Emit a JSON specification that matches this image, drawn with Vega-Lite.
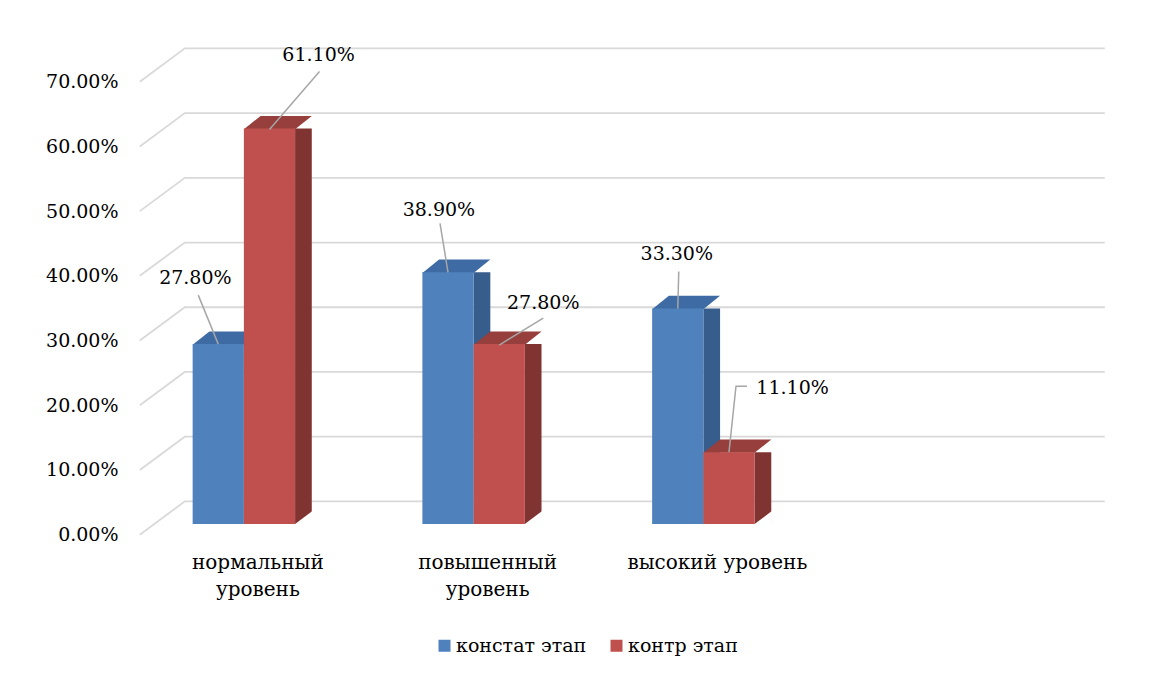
{
  "$schema": "https://vega.github.io/schema/vega-lite/v6.json",
  "width": 919,
  "height": 453,
  "autosize": {"type": "none"},
  "padding": {"left": 129, "top": 71, "right": 104, "bottom": 155},
  "background": "white",
  "config": {
    "view": {"stroke": null},
    "font": "DejaVu Serif",
    "legend": {
      "orient": "none", "legendX": 306, "legendY": 565, "direction": "horizontal",
      "labelFont": "DejaVu Serif", "labelFontSize": 19, "labelColor": "#000000",
      "symbolType": "square", "symbolSize": 144, "symbolStrokeWidth": 0,
      "columnPadding": 20, "labelOffset": 2, "padding": 0
    }
  },
  "datasets": {
    "bars": [
      {"cat": "нормальный уровень", "series": "констат этап", "value": 0.278},
      {"cat": "нормальный уровень", "series": "контр этап", "value": 0.611},
      {"cat": "повышенный уровень", "series": "констат этап", "value": 0.389},
      {"cat": "повышенный уровень", "series": "контр этап", "value": 0.278},
      {"cat": "высокий уровень", "series": "констат этап", "value": 0.333},
      {"cat": "высокий уровень", "series": "контр этап", "value": 0.111}
    ],
    "grid": [{"v": 0}, {"v": 0.1}, {"v": 0.2}, {"v": 0.3}, {"v": 0.4}, {"v": 0.5}, {"v": 0.6}, {"v": 0.7}]
  },
  "layer": [
    {
      "data": {"name": "grid"},
      "mark": {"type": "point", "shape": "M10.8,10.7L55.8,-22.6L975.8,-22.6", "size": 4, "filled": false, "stroke": "#d9d9d9", "strokeWidth": 1.8, "opacity": 1},
      "encoding": {
        "x": {"value": 0},
        "y": {
          "field": "v", "type": "quantitative", "scale": {"domain": [0, 0.7], "nice": false},
          "axis": {
            "title": null, "grid": false, "domain": false, "ticks": false, "tickSize": 0,
            "values": [0, 0.1, 0.2, 0.3, 0.4, 0.5, 0.6, 0.7], "format": ".2%",
            "labelPadding": 11, "labelOffset": 10.7,
            "labelFont": "DejaVu Serif", "labelFontSize": 19, "labelColor": "#000000"
          }
        }
      }
    },
    {
      "data": {"name": "bars"},
      "encoding": {
        "x": {
          "field": "cat", "type": "nominal",
          "scale": {"domain": ["нормальный уровень", "повышенный уровень", "высокий уровень", " "], "paddingInner": 0.554, "paddingOuter": 0.277},
          "axis": {
            "title": null, "grid": false, "domain": false, "ticks": false, "tickSize": 0,
            "labelPadding": 28, "labelOffset": 14, "labelAngle": 0,
            "labelFont": "DejaVu Serif", "labelFontSize": 20, "labelColor": "#000000", "labelLineHeight": 27,
            "labelExpr": "datum.value == 'высокий уровень' ? datum.value : split(datum.value, ' ')"
          }
        },
        "y": {
          "field": "value", "type": "quantitative",
          "scale": {"domain": [0, 0.7], "nice": false},
          "axis": {
            "title": null, "grid": false, "domain": false, "ticks": false, "tickSize": 0,
            "values": [0, 0.1, 0.2, 0.3, 0.4, 0.5, 0.6, 0.7], "format": ".2%",
            "labelPadding": 11, "labelOffset": 10.7,
            "labelFont": "DejaVu Serif", "labelFontSize": 19, "labelColor": "#000000"
          }
        }
      },
      "layer": [
        {
          "transform": [{"filter": "datum.series == 'констат этап'"}],
          "mark": {"type": "bar", "width": 16.7, "xOffset": 8.35, "color": "#375d8c"}
        },
        {
          "transform": [{"filter": "datum.series == 'контр этап'"}],
          "mark": {"type": "bar", "width": 16.7, "xOffset": 59.55, "color": "#7f3432"}
        },
        {
          "mark": {"type": "point", "shape": "M25.6,0L42.9,-13L42.9,1.5L25.6,1.5Z", "size": 4, "filled": true, "opacity": 1, "color": "white", "strokeWidth": 0},
          "encoding": {
            "xOffset": {"field": "series", "type": "nominal", "scale": {"domain": ["констат этап", "контр этап"], "paddingInner": 0, "paddingOuter": 0}},
            "y": {
              "datum": 0, "type": "quantitative",
              "axis": {
                "title": null, "grid": false, "domain": false, "ticks": false, "tickSize": 0,
                "values": [0, 0.1, 0.2, 0.3, 0.4, 0.5, 0.6, 0.7], "format": ".2%",
                "labelPadding": 11, "labelOffset": 10.7,
                "labelFont": "DejaVu Serif", "labelFontSize": 19, "labelColor": "#000000"
              }
            }
          }
        },
        {
          "mark": {"type": "point", "shape": "M-25.6,0.7L25.6,0.7L42.3,-12.7L-8.9,-12.7Z", "size": 4, "filled": true, "opacity": 1, "strokeWidth": 0},
          "encoding": {
            "xOffset": {"field": "series", "type": "nominal", "scale": {"domain": ["констат этап", "контр этап"], "paddingInner": 0, "paddingOuter": 0}},
            "color": {"condition": {"test": "datum.series == 'констат этап'", "value": "#3e6ba3"}, "value": "#963f3c"}
          }
        },
        {
          "mark": {"type": "bar"},
          "encoding": {
            "xOffset": {"field": "series", "type": "nominal", "scale": {"domain": ["констат этап", "контр этап"], "paddingInner": 0, "paddingOuter": 0}},
            "color": {"field": "series", "type": "nominal", "scale": {"domain": ["констат этап", "контр этап"], "range": ["#4f81bd", "#c0504d"]}, "legend": {"title": null}}
          }
        },
        {
          "mark": {"type": "point", "size": 4, "filled": false, "opacity": 1, "color": "#a6a6a6", "strokeWidth": 1.5},
          "encoding": {
            "xOffset": {"field": "series", "type": "nominal", "scale": {"domain": ["констат этап", "контр этап"], "paddingInner": 0, "paddingOuter": 0}},
            "shape": {
              "condition": [
                {"test": "datum.cat == 'нормальный уровень' && datum.series == 'констат этап'", "value": "M0,0L-20,-49"},
                {"test": "datum.cat == 'нормальный уровень' && datum.series == 'контр этап'", "value": "M0,1L50,-57"},
                {"test": "datum.cat == 'повышенный уровень' && datum.series == 'констат этап'", "value": "M0,0L-8,-49"},
                {"test": "datum.cat == 'повышенный уровень' && datum.series == 'контр этап'", "value": "M0,1L44,-26"},
                {"test": "datum.cat == 'высокий уровень' && datum.series == 'констат этап'", "value": "M0,0L1,-37"}
              ],
              "value": "M0,0L7,-66L18,-66"
            }
          }
        },
        {
          "transform": [{"filter": "datum.cat == 'нормальный уровень' && datum.series == 'констат этап'"}],
          "mark": {"type": "text", "font": "DejaVu Serif", "fontSize": 19, "color": "#000000", "align": "center", "baseline": "middle", "dx": -22.9, "dy": -65.9},
          "encoding": {
            "xOffset": {"field": "series", "type": "nominal", "scale": {"domain": ["констат этап", "контр этап"], "paddingInner": 0, "paddingOuter": 0}},
            "text": {"field": "value", "type": "quantitative", "format": ".2%"}
          }
        },
        {
          "transform": [{"filter": "datum.cat == 'нормальный уровень' && datum.series == 'контр этап'"}],
          "mark": {"type": "text", "font": "DejaVu Serif", "fontSize": 19, "color": "#000000", "align": "center", "baseline": "middle", "dx": 49.1, "dy": -73.4},
          "encoding": {
            "xOffset": {"field": "series", "type": "nominal", "scale": {"domain": ["констат этап", "контр этап"], "paddingInner": 0, "paddingOuter": 0}},
            "text": {"field": "value", "type": "quantitative", "format": ".2%"}
          }
        },
        {
          "transform": [{"filter": "datum.cat == 'повышенный уровень' && datum.series == 'констат этап'"}],
          "mark": {"type": "text", "font": "DejaVu Serif", "fontSize": 19, "color": "#000000", "align": "center", "baseline": "middle", "dx": -9.1, "dy": -62.2},
          "encoding": {
            "xOffset": {"field": "series", "type": "nominal", "scale": {"domain": ["констат этап", "контр этап"], "paddingInner": 0, "paddingOuter": 0}},
            "text": {"field": "value", "type": "quantitative", "format": ".2%"}
          }
        },
        {
          "transform": [{"filter": "datum.cat == 'повышенный уровень' && datum.series == 'контр этап'"}],
          "mark": {"type": "text", "font": "DejaVu Serif", "fontSize": 19, "color": "#000000", "align": "center", "baseline": "middle", "dx": 44, "dy": -40.9},
          "encoding": {
            "xOffset": {"field": "series", "type": "nominal", "scale": {"domain": ["констат этап", "контр этап"], "paddingInner": 0, "paddingOuter": 0}},
            "text": {"field": "value", "type": "quantitative", "format": ".2%"}
          }
        },
        {
          "transform": [{"filter": "datum.cat == 'высокий уровень' && datum.series == 'констат этап'"}],
          "mark": {"type": "text", "font": "DejaVu Serif", "fontSize": 19, "color": "#000000", "align": "center", "baseline": "middle", "dx": -1, "dy": -54.5},
          "encoding": {
            "xOffset": {"field": "series", "type": "nominal", "scale": {"domain": ["констат этап", "контр этап"], "paddingInner": 0, "paddingOuter": 0}},
            "text": {"field": "value", "type": "quantitative", "format": ".2%"}
          }
        },
        {
          "transform": [{"filter": "datum.cat == 'высокий уровень' && datum.series == 'контр этап'"}],
          "mark": {"type": "text", "font": "DejaVu Serif", "fontSize": 19, "color": "#000000", "align": "center", "baseline": "middle", "dx": 63.6, "dy": -64.1},
          "encoding": {
            "xOffset": {"field": "series", "type": "nominal", "scale": {"domain": ["констат этап", "контр этап"], "paddingInner": 0, "paddingOuter": 0}},
            "text": {"field": "value", "type": "quantitative", "format": ".2%"}
          }
        }
      ]
    }
  ]
}
